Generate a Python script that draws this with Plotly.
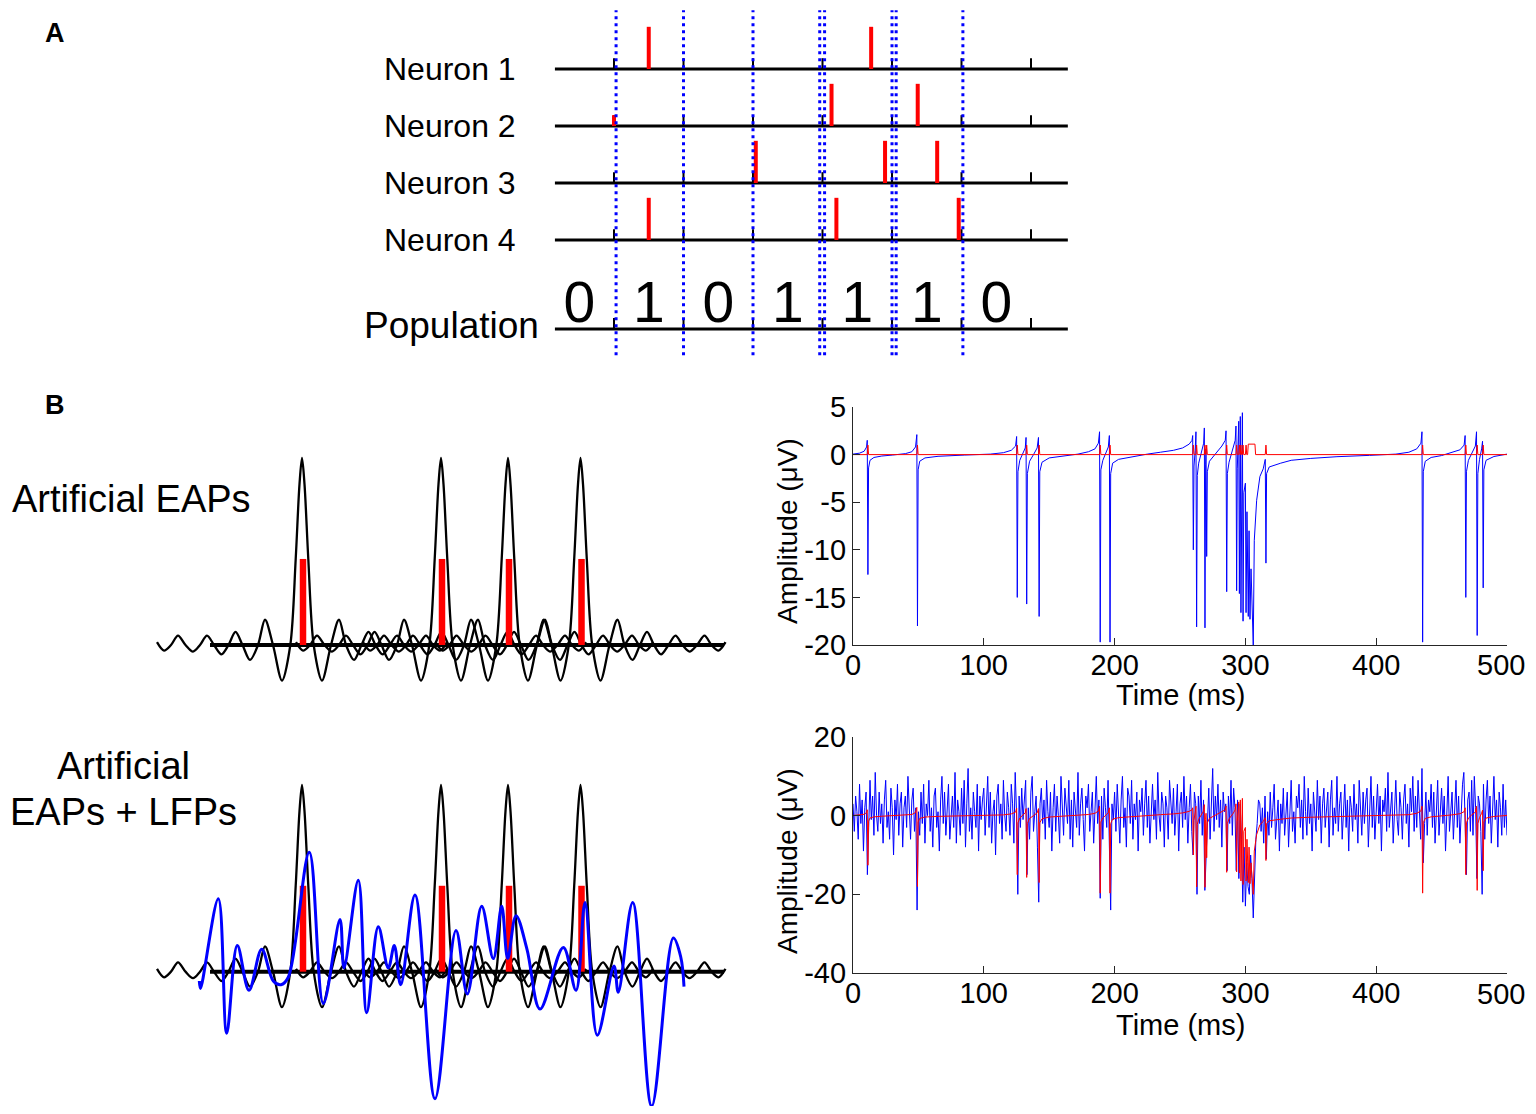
import plotly.graph_objects as go

# the page body keeps the browser's 8px margin, so the figure is drawn 8px in
PAGE_OFFSET = 8
WIDTH, HEIGHT = 1520, 1098
FONT = "Liberation Sans, Arial, sans-serif"
BLUE = "#0000ff"
RED = "#ff0000"

# ---------------- panel A: spike raster ----------------
bin_edges = [10, 20, 30, 40, 50, 60, 70]
bin_centres = [5, 15, 25, 35, 45, 55, 65]
population_bits = ["0", "1", "0", "1", "1", "1", "0"]
row_names = ["Neuron 1", "Neuron 2", "Neuron 3", "Neuron 4"]
row_levels = [4, 3, 2, 1]
population_level = -0.56
neuron_spikes = [[15.0, 47.0], [41.3, 53.7], [30.4, 49.0, 56.5], [15.0, 42.0, 59.6]]
neuron2_edge_spike = 10.0
window_bounds = [10.3, 20.0, 30.0, 39.6, 40.3, 50.0, 50.6, 60.2]

# ---------------- panel B left: artificial EAPs ----------------
eap_spikes = [147, 286, 353, 425.5]
eap_offsets = [-145, -138, -131, -124, -116.5, -109, -102, -95, -88, -80.5, -73.5,
               -66.5, -59.5, -52, -44, -37, -29, -20, -11.7, -6.3, -2.5, 0, 2.5, 6.3, 11.7,
               20, 29, 37, 44, 52, 59.5, 66.5, 73.5, 80.5, 88, 95, 102, 109, 116.5,
               124, 131, 138, 145]
eap_shape = [0.015, -0.03, 0, 0.05, 0, -0.035, 0, 0.05, 0, -0.05, 0,
             0.07, 0, -0.08, 0, 0.135, 0, -0.19, 0, 0.46, 0.86, 1, 0.86, 0.46, 0,
             -0.19, 0, 0.135, 0, -0.08, 0, 0.07, 0, -0.05, 0, 0.05, 0, -0.035, 0,
             0.05, 0, -0.03, 0.015]
spike_bar_height = 0.46
lfp_trace = [(44.3, -0.05), (45.5, -0.09), (63.3, 0.39), (71.7, -0.33), (82.3, 0.14),
             (94.0, -0.10), (106.7, 0.12), (118.3, -0.05), (126.0, -0.07), (133.3, -0.03),
             (154.3, 0.64), (168.3, -0.17), (185.0, 0.28), (189.0, 0.02), (203.3, 0.49),
             (211.7, -0.22), (223.3, 0.24), (233.3, 0.02), (239.3, 0.14), (245.7, -0.07),
             (260.0, 0.41), (280.0, -0.68), (301.0, 0.22), (312.3, -0.12), (326.7, 0.35),
             (338.3, 0.07), (346.7, 0.35), (352.7, 0.07), (361.0, 0.30), (372.0, 0.12),
             (385.0, -0.20), (408.3, 0.13), (421.0, -0.10), (430.0, 0.37), (442.3, -0.34),
             (459.0, 0.03), (463.3, -0.11), (477.7, 0.37), (496.7, -0.72), (518.3, 0.18),
             (525.7, 0.08), (529.0, -0.08)]

# ---------------- panel B right: traces (ms, uV) ----------------
eap_trace = [
    (0, 0.05), (5, 0.15), (8.5, 0.35), (10.4, 0.8), (10.9, 1.5), (11.4, -12.6), (11.9, -1.4),
    (13, -0.6), (16, -0.3), (22, -0.15), (30, -0.05),
    (40, 0.1), (45, 0.3), (47.8, 0.8), (48.8, 2.1), (49.3, -18.0), (49.8, -1.6), (51, -0.7),
    (55, -0.35), (65, -0.18), (85, -0.05), (105, 0.05),
    (115, 0.2), (121, 0.45), (124.3, 0.9), (125.1, 1.9), (125.6, -15.0), (126.1, -1.8),
    (127.5, -0.6), (130, 0.2), (131.7, 0.7), (132.3, 1.8), (132.8, -15.7), (133.3, -2.0),
    (135, -0.7), (138, 0.0), (140.8, 0.7), (141.8, 1.8), (142.3, -17.0), (142.8, -1.8),
    (144.5, -0.8), (150, -0.35), (160, -0.15), (172, 0.05),
    (180, 0.3), (185, 0.6), (187.6, 1.2), (188.5, 2.4), (189.0, -19.7), (189.5, -1.6),
    (191, -0.6), (193.5, 0.2), (195.2, 0.8), (196.0, 2.0), (196.5, -19.7), (197.0, -2.0),
    (198.5, -0.9), (203, -0.5), (212, -0.25), (225, 0.05),
    (235, 0.25), (245, 0.45), (252, 0.7), (257, 1.1), (259.2, 1.5), (259.7, 2.0),
    (260.2, -10.0), (260.7, -1.2), (261.6, 0.4), (262.2, 2.4), (262.7, -18.1), (263.2, -2.2),
    (264.3, -0.9), (266.5, 0.2), (268.1, 1.2), (268.6, 2.8), (269.1, -18.2), (269.6, -1.0),
    (269.9, 0.6), (270.4, -10.7), (270.9, -1.8), (272.5, -0.7), (277, 0.1), (282, 0.9),
    (284.6, 1.5), (285.2, 2.5), (285.7, -14.4), (286.2, -2.0), (287.5, -0.8), (290.5, 0.5),
    (292.2, 1.5), (292.8, 3.0), (293.3, -14.3), (293.8, -1.5), (294.4, 1.2), (294.9, 3.5),
    (295.4, -14.6), (295.7, -1.0), (296.1, 4.0), (296.6, -16.6), (297.0, -1.5), (297.7, 4.4),
    (298.2, -17.5), (298.8, -4.0), (300.0, -3.0), (300.5, -16.6), (301.2, -6.0),
    (302.2, -17.0), (302.8, -8.0), (303.5, -17.3), (304.3, -12.0), (305.0, -15.0),
    (305.6, -18.4), (306.0, -20.0), (306.8, -9.0), (308.6, -4.8), (311.1, -2.3),
    (313.6, -1.5), (315.2, -0.5), (315.7, -11.4), (316.2, -2.0), (318.2, -1.3), (327, -0.9),
    (335, -0.6), (350, -0.4), (370, -0.22), (395, -0.08), (415, 0.05),
    (425, 0.25), (431, 0.6), (434.2, 1.2), (435.0, 2.4), (435.5, -19.7), (436.0, -1.8),
    (437.5, -0.7), (442, -0.3), (450, -0.1),
    (458, 0.2), (464, 0.5), (467.2, 1.0), (468.0, 2.0), (468.5, -15.0), (469.0, -1.8),
    (470.5, -0.6), (473, 0.2), (475.8, 0.9), (476.7, 2.4), (477.2, -19.0), (477.7, -2.0),
    (479, -0.5), (480.6, 0.6), (481.3, 1.4), (481.8, -14.0), (482.3, -1.6), (484, -0.6),
    (490, -0.2), (500, 0.05),
]
train_trace = [
    (0, 0), (10.9, 0), (11.4, 1), (11.9, 0), (48.8, 0), (49.3, 1), (49.8, 0),
    (125.1, 0), (125.6, 1), (126.1, 0), (132.3, 0), (132.8, 1), (133.3, 0),
    (141.8, 0), (142.3, 1), (142.8, 0), (188.5, 0), (189.0, 1), (189.5, 0),
    (196.0, 0), (196.5, 1), (197.0, 0), (259.7, 0), (260.2, 1), (260.7, 0),
    (262.2, 0), (262.7, 1), (263.2, 0), (268.6, 0), (269.1, 1), (269.6, 0),
    (269.9, 0), (270.4, 1), (270.9, 0), (285.2, 0), (285.7, 1), (286.2, 0),
    (292.8, 0), (293.3, 1), (293.8, 0), (294.9, 0), (295.4, 1), (295.9, 0),
    (296.1, 0), (296.6, 1), (297.1, 0), (297.7, 0), (298.2, 1), (298.7, 0),
    (300.0, 0), (300.5, 1), (301.0, 0), (301.7, 0), (302.2, 1.1), (307.3, 1.1),
    (307.8, 0), (315.2, 0), (315.7, 1), (316.2, 0), (435.0, 0), (435.5, 1),
    (436.0, 0), (468.0, 0), (468.5, 1), (469.0, 0), (476.7, 0), (477.2, 1),
    (477.7, 0), (481.3, 0), (481.8, 1), (482.3, 0), (500, 0),
]
# EAPs + LFP noise, one sample per ms (0..500)
noisy_trace = [
    3, -4, 5, 1, -6, 8, -2, 4, -9, 2, 6, -15, -3, 9, -1, 5, -5, 11, 0, -4,
    6, -2, 3, -7, 4, 9, -3, 1, -6, 7, 2, -10, 4, -1, 8, -5, 3, 6, -8, 2,
    5, -3, 10, -1, -6, 4, 7, -4, 2, -24, 1, -5, 6, -2, 8, -7, 3, 0, 9, -4,
    2, -8, 5, 7, -3, 1, -9, 4, 10, -2, 6, -5, 3, 8, -6, 0, 5, -3, 11, -7,
    4, 1, -5, 7, -2, 9, -8, 3, 12, -4, 2, -6, 6, 1, -3, 8, -9, 5, -1, 4,
    7, -5, 2, 10, -3, 6, -7, 1, 4, -10, 5, 8, -2, 3, -6, 9, 0, -4, 6, 2,
    -5, 8, 3, -7, 11, 1, -20, 5, -3, 7, -1, 4, 9, -15, 2, -6, 6, 10, -4, 1,
    5, -8, -22, 3, 7, -2, 4, -6, 9, 1, -3, 6, -9, 2, 8, -4, 5, 0, -7, 10,
    3, -5, 7, 1, -2, 9, -6, 4, -8, 6, 2, -3, 11, -5, 3, 7, -1, -9, 5, 2,
    8, -4, 1, 6, -7, 3, 10, -2, 4, -21, 5, -6, 7, 2, -3, 9, -5, -24, 3, -1,
    6, -4, 8, 1, -7, 4, 10, -3, 2, -8, 7, 5, -2, 9, -6, 3, -1, 6, -9, 4,
    1, 7, -5, 3, 9, -3, 5, -7, 2, 8, -1, 4, -6, 11, 0, -4, 6, 3, -8, 5,
    2, -6, 9, 4, -2, 7, -5, 1, 8, -9, 3, 6, -3, 10, -1, 5, -7, 2, 8, -4,
    -10, 6, 3, -20, 5, -2, 9, -5, 4, -19, -9, 2, 7, -6, 3, 12, -4, 5, -1, 8,
    -3, 4, -8, 6, 1, 3, -14, 5, -2, 9, -5, 7, 2, -14, 4, -16, 3, -6, -22, -8,
    -23, -12, -18, -20, -10, -16, -26, -15, -6, -2, 4, 3, -4, 2, -7, 5, -11, 1, -5, 6,
    -3, 2, 8, -6, 1, 4, -9, 3, -2, 7, -5, 0, 6, -8, 3, 9, -4, 1, -7, 5,
    2, 8, -3, 4, -6, 10, 1, -5, 7, -2, 3, -9, 6, 2, -4, 9, -1, 5, -7, 3,
    7, -3, 1, 6, -8, 4, 9, -5, 2, -2, 10, -4, 3, 6, -6, 1, 8, -3, 4, -9,
    5, 2, -4, 8, -1, 3, -7, 9, 1, -5, 6, -2, 4, 7, -8, 2, 10, -3, 5, -6,
    3, 8, -2, 5, -9, 4, 1, 7, -4, 11, -3, 2, 6, -7, 3, 9, -1, -5, 6, 2,
    -6, 4, 8, -2, 3, -8, 7, 1, 10, -4, 5, -3, 9, 2, -6, 12, -12, -2, 6, -5,
    4, 1, 8, -3, 6, -7, 3, 9, -5, 2, 7, -2, 5, -9, 4, 10, -4, 1, 6, -6,
    3, 9, -3, 5, -7, 2, 8, 11, -1, -15, 4, 6, -4, 9, -5, 10, 2, -16, 5, 3,
    -4, -20, 8, -6, 4, 9, -2, 5, -7, 3, 10, -1, 4, -8, 6, 2, -5, 8, -3, 4,
    -5,
]
time_ticks = [0, 100, 200, 300, 400, 500]
top_amp_ticks = [5, 0, -5, -10, -15, -20]
bottom_amp_ticks = [20, 0, -20, -40]


def px_x(p):
    return (p - PAGE_OFFSET) / WIDTH


def px_y(p):
    return 1 - (p - PAGE_OFFSET) / HEIGHT


def dom_x(left, right):
    return [px_x(left), px_x(right)]


def dom_y(top, bottom):
    return [max(0, px_y(bottom)), min(1, px_y(top))]


def segments(xs, y0, y1):
    sx, sy = [], []
    for v in xs:
        sx += [v, v, None]
        sy += [y0, y1, None]
    return sx, sy


fig = go.Figure()

# ---- panel A ----
lx, ly, tx, ty = [], [], [], []
for lv in row_levels + [population_level]:
    lx += [1.5, 75.3, None]
    ly += [lv, lv, None]
    a, b = segments(bin_edges, lv, lv + 0.19)
    tx += a
    ty += b
fig.add_trace(go.Scatter(x=lx, y=ly, mode="lines", line=dict(color="black", width=3),
                         xaxis="x", yaxis="y"))
fig.add_trace(go.Scatter(x=tx, y=ty, mode="lines", line=dict(color="black", width=2),
                         xaxis="x", yaxis="y"))
rx, ry = [], []
for lv, spikes in zip(row_levels, neuron_spikes):
    a, b = segments(spikes, lv, lv + 0.74)
    rx += a
    ry += b
a, b = segments([neuron2_edge_spike], row_levels[1], row_levels[1] + 0.19)
rx += a
ry += b
fig.add_trace(go.Scatter(x=rx, y=ry, mode="lines", line=dict(color=RED, width=4),
                         xaxis="x", yaxis="y"))
bx, by = segments(window_bounds, -1.02, 5.03)
fig.add_trace(go.Scatter(x=bx, y=by, mode="lines",
                         line=dict(color=BLUE, width=3, dash="3px,4px"),
                         xaxis="x", yaxis="y"))
fig.add_trace(go.Scatter(x=bin_centres, y=[population_level + 0.38] * len(bin_centres),
                         mode="text", text=population_bits,
                         textfont=dict(family=FONT, size=57, color="black"),
                         xaxis="x", yaxis="y", cliponaxis=False))

# ---- panel B left ----
for xa, ya, with_lfp in (("x2", "y2", False), ("x3", "y3", True)):
    for s in eap_spikes:
        fig.add_trace(go.Scatter(x=[s + o for o in eap_offsets], y=eap_shape, mode="lines",
                                 line=dict(color="black", width=2.3, shape="spline", smoothing=0.9),
                                 xaxis=xa, yaxis=ya))
    fig.add_trace(go.Scatter(x=[55, 569], y=[0, 0], mode="lines",
                             line=dict(color="black", width=4), xaxis=xa, yaxis=ya))
    a, b = segments([s + 1 for s in eap_spikes], 0, spike_bar_height)
    fig.add_trace(go.Scatter(x=a, y=b, mode="lines", line=dict(color=RED, width=6.5),
                             xaxis=xa, yaxis=ya))
    if with_lfp:
        fig.add_trace(go.Scatter(x=[p[0] for p in lfp_trace], y=[p[1] for p in lfp_trace],
                                 mode="lines",
                                 line=dict(color=BLUE, width=3, shape="spline", smoothing=1),
                                 xaxis=xa, yaxis=ya))

# ---- panel B right ----
eap_t = [p[0] for p in eap_trace]
eap_v = [p[1] for p in eap_trace]
fig.add_trace(go.Scatter(x=eap_t, y=eap_v, mode="lines", line=dict(color=BLUE, width=1),
                         xaxis="x4", yaxis="y4"))
fig.add_trace(go.Scatter(x=[p[0] for p in train_trace], y=[p[1] for p in train_trace],
                         mode="lines", line=dict(color=RED, width=1), xaxis="x4", yaxis="y4"))
fig.add_trace(go.Scatter(x=list(range(len(noisy_trace))), y=noisy_trace, mode="lines",
                         line=dict(color=BLUE, width=1), xaxis="x5", yaxis="y5"))
fig.add_trace(go.Scatter(x=eap_t, y=eap_v, mode="lines", line=dict(color=RED, width=1),
                         xaxis="x5", yaxis="y5"))

hidden = dict(visible=False, fixedrange=True, automargin=False)
tick_font = dict(family=FONT, size=29, color="black")


def data_axis(domain, rng, anchor, ticks, labels, standoff=0):
    return dict(domain=domain, range=rng, anchor=anchor, showline=True, linecolor="#262626",
                linewidth=1.3, ticks="inside", ticklen=7, tickcolor="#262626", tickwidth=1.3,
                tickvals=ticks, ticktext=labels, tickfont=tick_font,
                ticklabelstandoff=standoff, automargin=False,
                showgrid=False, zeroline=False, mirror=False, fixedrange=True)


# the last time label sits at the page edge; it is written as a note nudged inwards
time_labels = [str(t) for t in time_ticks[:-1]] + [""]
amp_top_labels = [str(t) for t in top_amp_ticks]
amp_bottom_labels = [str(t) for t in bottom_amp_ticks]

# bottom-left panel reaches the lower page edge
low_bottom = PAGE_OFFSET + HEIGHT
low_range = [(971.7 - low_bottom) / 186.7, 1.080]

fig.update_layout(
    template="none",
    width=WIDTH, height=HEIGHT, margin=dict(l=0, r=0, t=0, b=0, pad=0), autosize=False,
    paper_bgcolor="white", plot_bgcolor="rgba(0,0,0,0)", showlegend=False,
    font=dict(family=FONT, color="black"),
    xaxis=dict(domain=dom_x(540, 1080), range=[-0.647, 77.05], anchor="y", **hidden),
    yaxis=dict(domain=dom_y(8, 360), range=[-1.105, 5.07], anchor="x", **hidden),
    xaxis2=dict(domain=dom_x(140, 740), range=[-15, 585], anchor="y2", **hidden),
    yaxis2=dict(domain=dom_y(440, 720), range=[-0.401, 1.096], anchor="x2", **hidden),
    xaxis3=dict(domain=dom_x(140, 740), range=[-15, 585], anchor="y3", **hidden),
    yaxis3=dict(domain=dom_y(770, low_bottom), range=low_range, anchor="x3", **hidden),
    xaxis4=data_axis(dom_x(853, 1507), [0, 500], "y4", time_ticks, time_labels, -6),
    yaxis4=data_axis(dom_y(407, 645), [-20, 5], "x4", top_amp_ticks, amp_top_labels),
    xaxis5=data_axis(dom_x(853, 1507), [0, 500], "y5", time_ticks, time_labels, -6),
    yaxis5=data_axis(dom_y(737, 973), [-40, 20], "x5", bottom_amp_ticks, amp_bottom_labels),
)


def note(text, x, y, size, xanchor="center", bold=False, angle=0, yref="paper", ypix=True):
    fig.add_annotation(
        text=f"<b>{text}</b>" if bold else text,
        x=px_x(x), y=px_y(y) if ypix else y, xref="paper", yref=yref,
        xanchor=xanchor, yanchor="middle", showarrow=False, textangle=angle,
        font=dict(family=FONT, size=size, color="black"),
    )


note("A", 54.5, 33.5, 27, bold=True)
note("B", 54.5, 405, 27, bold=True)
for name, lv in zip(row_names, row_levels):
    note(name, 518, lv, 32, xanchor="right", yref="y", ypix=False)
note("Population", 541, population_level + 0.06, 37, xanchor="right", yref="y", ypix=False)
note("Artificial EAPs", 10, 499, 38, xanchor="left")
note("Artificial", 123, 766, 38)
note("EAPs + LFPs", 123, 812, 38)
note(str(time_ticks[-1]), 1527, 665, 29, xanchor="right")
note(str(time_ticks[-1]), 1527, 994, 29, xanchor="right")
note("Time (ms)", 1180, 695, 29)
note("Time (ms)", 1180, 1025, 29)
note("Amplitude (\u03bcV)", 787, 531, 28, angle=-90)
note("Amplitude (\u03bcV)", 787, 861, 28, angle=-90)

fig.write_html("out.html")
